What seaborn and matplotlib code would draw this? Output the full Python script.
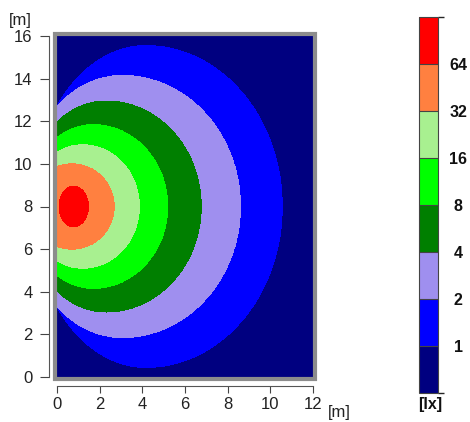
import numpy as np
import matplotlib
matplotlib.use("Agg")
import matplotlib.pyplot as plt
import seaborn as sns
from matplotlib.colors import ListedColormap, BoundaryNorm
from matplotlib.patches import Rectangle
from matplotlib.cm import ScalarMappable

# ---------------------------------------------------------------
# Data
# ---------------------------------------------------------------
# illuminance classes [lx] (band boundaries)
level_values = [1, 2, 4, 8, 16, 32, 64]

# iso-lux boundaries, one per level: centre x, right / left half-width, half-height [m]
iso_center_x = [4.17, 3.06, 2.30, 1.70, 1.20, 0.70, 0.78]
iso_right_rx = [6.39, 5.54, 4.46, 3.49, 2.66, 1.98, 0.69]
iso_left_rx = [5.35, 4.75, 3.85, 3.15, 2.50, 1.98, 0.69]
iso_half_ry = [7.55, 6.15, 4.95, 3.84, 2.90, 2.00, 0.95]
iso_center_y = 8.0

room_x = [0, 12]
room_y = [0, 16]
x_ticks = [0, 2, 4, 6, 8, 10, 12]
y_ticks = [0, 2, 4, 6, 8, 10, 12, 14, 16]

band_colors = ['#000080', '#0000FF', '#9F8FEF', '#007F00',
               '#00FF00', '#A8F090', '#FF8040', '#FF0000']

# ---------------------------------------------------------------
# Build the class field from the measured iso-lux boundaries
# ---------------------------------------------------------------
gx = np.linspace(room_x[0], room_x[1], 1201)
gy = np.linspace(room_y[0], room_y[1], 1601)
X, Y = np.meshgrid(gx, gy)
band = np.zeros_like(X)
for cx, rr, rl, ry in zip(iso_center_x, iso_right_rx, iso_left_rx, iso_half_ry):
    rx = np.where(X >= cx, rr, rl)
    inside = ((X - cx) / rx) ** 2 + ((Y - iso_center_y) / ry) ** 2 <= 1.0
    band += inside

sns.set_theme(style="ticks")
plt.rcParams['font.family'] = ['Liberation Sans', 'DejaVu Sans']

fig = plt.figure(figsize=(4.70, 4.22), dpi=100)
W, H = 470, 422
ax = fig.add_axes([57 / W, (H - 377) / H, 256 / W, 341 / H])

cmap = ListedColormap(band_colors)
norm = BoundaryNorm(np.arange(len(band_colors) + 1), len(band_colors))
ax.contourf(X, Y, band, levels=np.arange(-0.5, len(band_colors) + 0.5, 1.0),
            colors=band_colors)

ax.set_xlim(room_x)
ax.set_ylim(room_y)
ax.set_xticks(x_ticks)
ax.set_yticks(y_ticks)
ax.tick_params(axis='y', length=6.5, width=0.8, color='#444444', pad=5,
               labelsize=12, labelcolor='#222222')
ax.tick_params(axis='x', length=5, width=0.8, color='#444444', pad=3,
               labelsize=12, labelcolor='#222222')
sns.despine(ax=ax, offset={'left': 6, 'bottom': 6.5})
for side in ['left', 'bottom']:
    ax.spines[side].set_linewidth(0.8)
    ax.spines[side].set_color('#555555')

# grey frame around the plan view
frame = Rectangle((55 / W, (H - 379) / H), 260 / W, 345 / H,
                  transform=fig.transFigure, fill=False,
                  edgecolor='#8C8C8C', linewidth=3.0, zorder=5)
fig.patches.append(frame)

fig.text(20 / W, 1 - 20 / H, '[m]', ha='center', va='center', fontsize=12,
         color='#222222')
fig.text(339 / W, 1 - 413 / H, '[m]', ha='center', va='center', fontsize=12,
         color='#222222')

# colour legend
cax = fig.add_axes([419 / W, (H - 393) / H, 19 / W, 376 / H])
sm = ScalarMappable(cmap=cmap, norm=norm)
cbar = fig.colorbar(sm, cax=cax, ticks=np.arange(1, len(band_colors)),
                    drawedges=True)
cbar.ax.set_yticklabels([str(v) for v in level_values])
cbar.ax.tick_params(length=0, pad=14.5)
for lab in cbar.ax.get_yticklabels():
    lab.set_horizontalalignment('center')
    lab.set_fontweight('bold')
    lab.set_fontsize(11.5)
    lab.set_color('#111111')
cbar.outline.set_edgecolor('#444444')
cbar.outline.set_linewidth(0.8)
cbar.dividers.set_color('#444444')
cbar.dividers.set_linewidth(0.8)

fig.text(430 / W, 1 - 405 / H, '[lx]', ha='center', va='center', fontsize=11.5,
         fontweight='bold', color='#111111')

fig.savefig('out.png', dpi=100)
